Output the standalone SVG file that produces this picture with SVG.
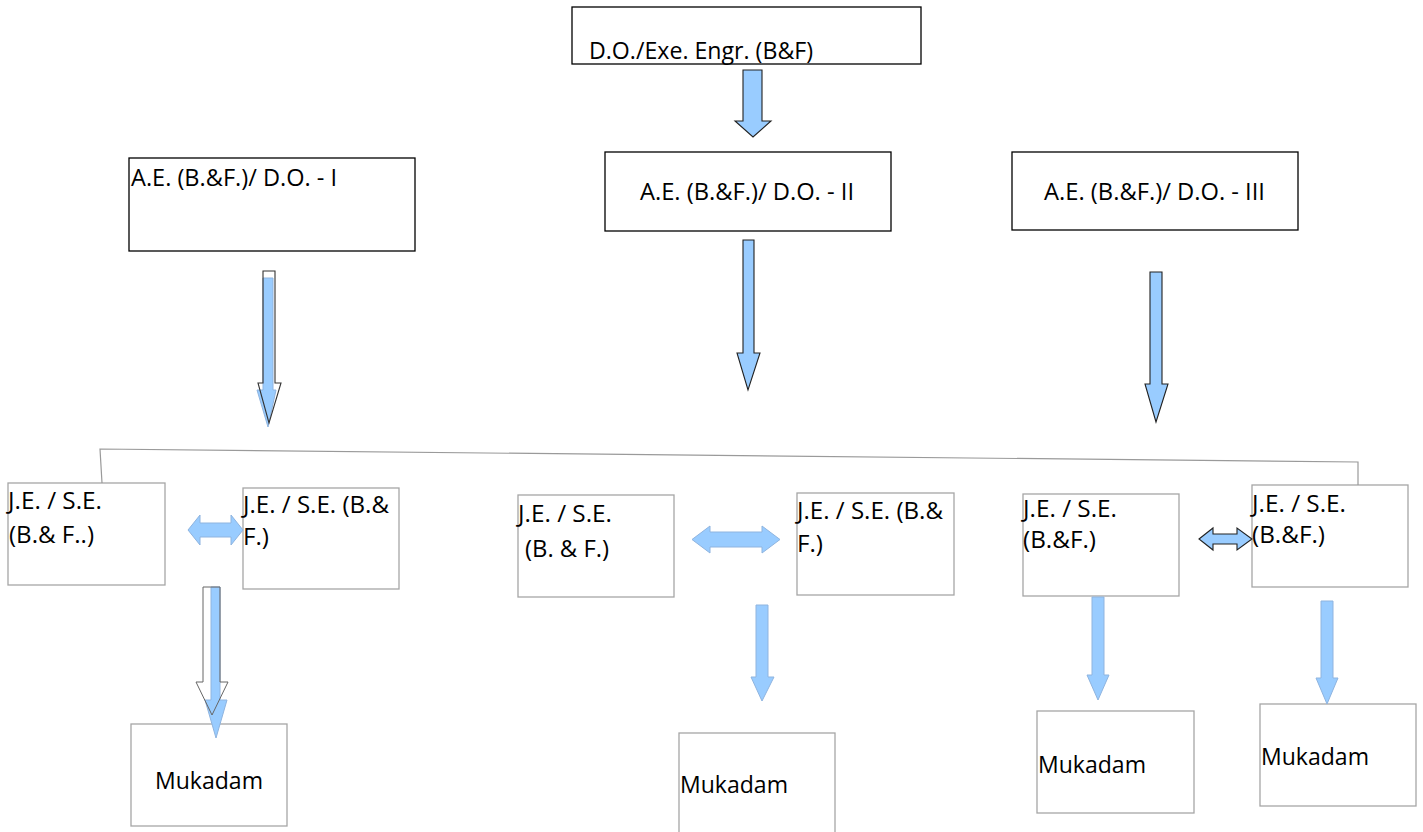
<svg xmlns="http://www.w3.org/2000/svg" width="1423" height="832" viewBox="0 0 1423 832">
<style>
  .bg { fill: #ffffff; }
  .boxA { fill: #ffffff; stroke: #000000; stroke-width: 1.3; }
  .boxB { fill: none; stroke: #a6a6a6; stroke-width: 1.3; }
  .t { font-family: "Open Sans", "Noto Sans", "Liberation Sans", sans-serif; font-size: 24px; fill: #000000; }
  .arrD { fill: #99ccff; stroke: #222222; stroke-width: 1.1; stroke-linejoin: miter; }
  .arrL { fill: #99ccff; stroke: #8fb4df; stroke-width: 1; }
  .arrO { fill: none; stroke: #333333; stroke-width: 1.1; }
  .arrOg { fill: none; stroke: #666666; stroke-width: 1; }
  .line { fill: none; stroke: #9a9a9a; stroke-width: 1.2; }
</style>
<rect class="bg" x="0" y="0" width="1423" height="832"/>

<g id="node-do">
  <rect class="boxA" x="572" y="7" width="349" height="57"/>
  <text class="t" x="589" y="59" textLength="224" lengthAdjust="spacingAndGlyphs">D.O./Exe. Engr. (B&amp;F)</text>
</g>

<g id="node-ae1">
  <rect class="boxA" x="129" y="158" width="286" height="93"/>
  <text class="t" x="131" y="186" textLength="206" lengthAdjust="spacingAndGlyphs">A.E. (B.&amp;F.)/ D.O. - I</text>
</g>

<g id="node-ae2">
  <rect class="boxA" x="605" y="152" width="286" height="79"/>
  <text class="t" x="640" y="200" textLength="214" lengthAdjust="spacingAndGlyphs">A.E. (B.&amp;F.)/ D.O. - II</text>
</g>

<g id="node-ae3">
  <rect class="boxA" x="1012" y="152" width="286" height="78"/>
  <text class="t" x="1044" y="200" textLength="221" lengthAdjust="spacingAndGlyphs">A.E. (B.&amp;F.)/ D.O. - III</text>
</g>

<g id="node-je1">
  <rect class="boxB" x="8" y="483" width="157" height="102"/>
  <text class="t" x="8" y="509" textLength="94" lengthAdjust="spacingAndGlyphs">J.E. / S.E.</text>
  <text class="t" x="9" y="543" textLength="85" lengthAdjust="spacingAndGlyphs">(B.&amp; F..)</text>
</g>

<g id="node-je2">
  <rect class="boxB" x="243" y="488" width="156" height="101"/>
  <text class="t" x="243" y="513" textLength="146" lengthAdjust="spacingAndGlyphs">J.E. / S.E. (B.&amp;</text>
  <text class="t" x="243" y="545" textLength="26" lengthAdjust="spacingAndGlyphs">F.)</text>
</g>

<g id="node-je3">
  <rect class="boxB" x="518" y="495" width="156" height="102"/>
  <text class="t" x="518" y="522" textLength="94" lengthAdjust="spacingAndGlyphs">J.E. / S.E.</text>
  <text class="t" x="525" y="557" textLength="84" lengthAdjust="spacingAndGlyphs">(B. &amp; F.)</text>
</g>

<g id="node-je4">
  <rect class="boxB" x="797" y="493" width="157" height="102"/>
  <text class="t" x="797" y="519" textLength="146" lengthAdjust="spacingAndGlyphs">J.E. / S.E. (B.&amp;</text>
  <text class="t" x="797" y="552" textLength="26" lengthAdjust="spacingAndGlyphs">F.)</text>
</g>

<g id="node-je5">
  <rect class="boxB" x="1023" y="494" width="156" height="102"/>
  <text class="t" x="1023" y="517" textLength="94" lengthAdjust="spacingAndGlyphs">J.E. / S.E.</text>
  <text class="t" x="1023" y="548" textLength="73" lengthAdjust="spacingAndGlyphs">(B.&amp;F.)</text>
</g>

<g id="node-je6">
  <rect class="boxB" x="1252" y="485" width="156" height="102"/>
  <text class="t" x="1252" y="512" textLength="94" lengthAdjust="spacingAndGlyphs">J.E. / S.E.</text>
  <text class="t" x="1252" y="543" textLength="73" lengthAdjust="spacingAndGlyphs">(B.&amp;F.)</text>
</g>

<g id="node-muk1">
  <rect class="boxB" x="131" y="724" width="156" height="102"/>
  <text class="t" x="155" y="789" textLength="108" lengthAdjust="spacingAndGlyphs">Mukadam</text>
</g>

<g id="node-muk2">
  <rect class="boxB" x="679" y="733" width="156" height="110"/>
  <text class="t" x="680" y="793" textLength="108" lengthAdjust="spacingAndGlyphs">Mukadam</text>
</g>

<g id="node-muk3">
  <rect class="boxB" x="1037" y="711" width="157" height="102"/>
  <text class="t" x="1038" y="773" textLength="108" lengthAdjust="spacingAndGlyphs">Mukadam</text>
</g>

<g id="node-muk4">
  <rect class="boxB" x="1260" y="704" width="156" height="102"/>
  <text class="t" x="1261" y="765" textLength="108" lengthAdjust="spacingAndGlyphs">Mukadam</text>
</g>

<g id="connectors">
  <polyline class="line" points="102,483 100,449 1358,462 1358,485"/>
  <path class="arrD" d="M743,70 H762 V121 H771 L753,137 L735,121 H743 Z"/>
  <path class="arrL" d="M263,278 H273 V390 H276 L268,427 L257,390 H263 Z" stroke="none"/>
  <path class="arrO" d="M263,271 H275 V383 H281 L269,423 L258,383 H263 Z"/>
  <path class="arrD" d="M743,240 H754 V353 H760 L748,390 L737,353 H743 Z"/>
  <path class="arrD" d="M1150,272 H1162 V384 H1168 L1156,422 L1145,384 H1150 Z"/>
  <path class="arrL" d="M188,530 L200,515 V523 H231 V515 L243,530 L231,545 V537 H200 V545 Z"/>
  <path class="arrL" d="M692,539.5 L710,526 V532 H762 V526 L780,539.5 L762,553 V547 H710 V553 Z"/>
  <path class="arrD" d="M1199,539 L1213,528 V534 H1237 V528 L1252,539 L1237,550 V544 H1213 V550 Z"/>
  <path class="arrL" d="M211,587 H220 V700 H227 L216,738 L205,700 H211 Z" stroke="none"/>
  <path class="arrOg" d="M203,587 H220 V682 H228 L212,715 L196,682 H203 Z"/>
  <path class="arrL" d="M756,605 H768 V677 H774 L762,701 L751,677 H756 Z"/>
  <path class="arrL" d="M1092,597 H1104 V675 H1109 L1098,700 L1087,675 H1092 Z"/>
  <path class="arrL" d="M1321,601 H1333 V678 H1338 L1327,704 L1316,678 H1321 Z"/>
</g>
</svg>
